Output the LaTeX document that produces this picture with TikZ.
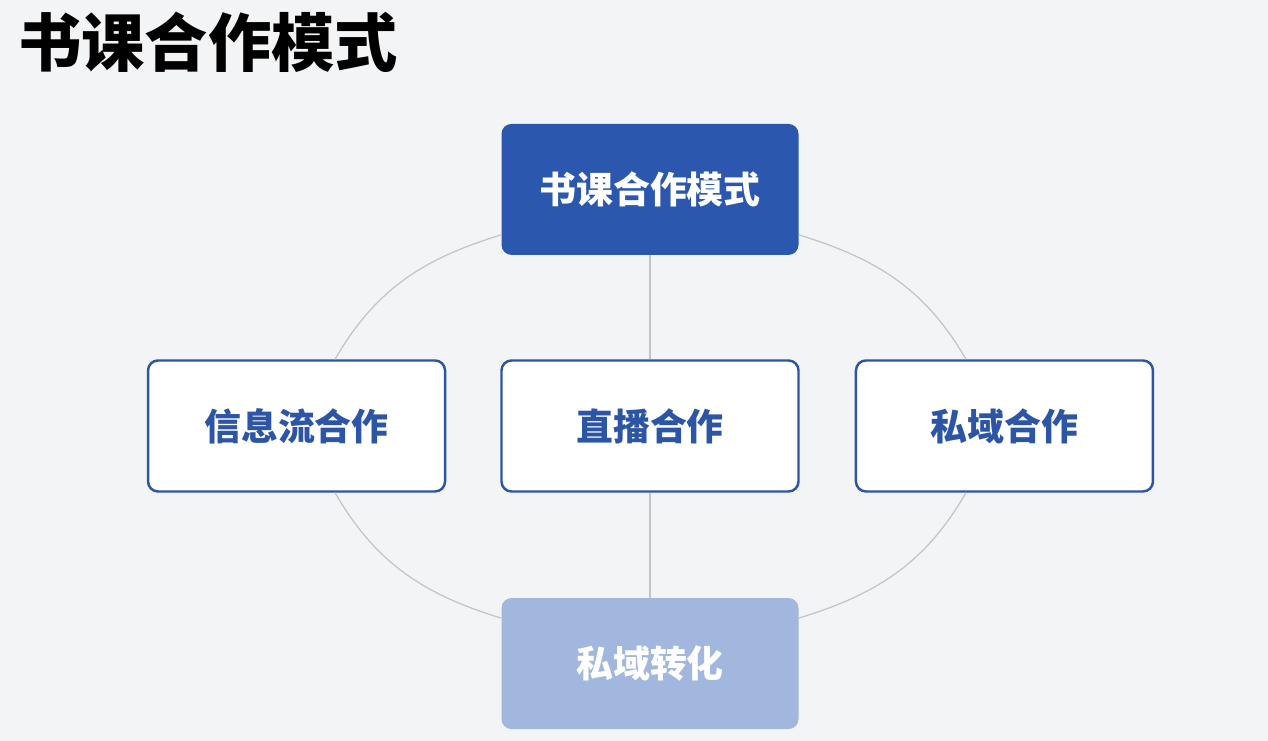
\documentclass[tikz,border=0pt]{standalone}
\usepackage{fontspec}
\newfontfamily\cjk{Noto Sans CJK SC}
\usetikzlibrary{positioning}

\definecolor{deepblue}{HTML}{2B58AE}
\definecolor{paleblue}{HTML}{A1B7DD}
\definecolor{edgeblue}{HTML}{2D55A5}
\definecolor{linkgray}{HTML}{C4C4C6}
\definecolor{pagebg}{HTML}{F3F4F6}

\begin{document}
\begin{tikzpicture}[
    box/.style={rectangle, rounded corners=0.2cm, minimum width=5.94cm, minimum height=2.62cm, font=\cjk\bfseries\fontsize{21}{24}\selectfont},
    mainbox/.style={box, fill=deepblue, text=white},
    subbox/.style={box, draw=edgeblue, line width=1.4pt, fill=white, text=edgeblue},
    goalbox/.style={box, fill=paleblue, text=white},
    link/.style={draw=linkgray, line width=0.7pt}
]
    % Page
    \fill[pagebg] (0,0) rectangle (25.36,14.82);
    \node[anchor=west, inner sep=0pt, font=\cjk\bfseries\fontsize{36}{40}\selectfont] (title) at (0.36,13.98) {书课合作模式};

    % Cooperation types
    \node[subbox] (live) at (13.0,6.3) {直播合作};
    \node[subbox, left=1.08cm of live] (feed) {信息流合作};
    \node[subbox, right=1.1cm of live] (private) {私域合作};

    % Mode and conversion
    \node[mainbox, above=2.08cm of live] (mode) {书课合作模式};
    \node[goalbox, below=2.1cm of live] (convert) {私域转化};

    % Links
    \draw[link] (mode) -- (live);
    \draw[link] (live) -- (convert);
    \draw[link] (mode) to[out=197, in=60] (feed);
    \draw[link] (feed) to[out=-60, in=163] (convert);
    \draw[link] (mode) to[out=-17, in=120] (private);
    \draw[link] (private) to[out=240, in=17] (convert);
\end{tikzpicture}
\end{document}
